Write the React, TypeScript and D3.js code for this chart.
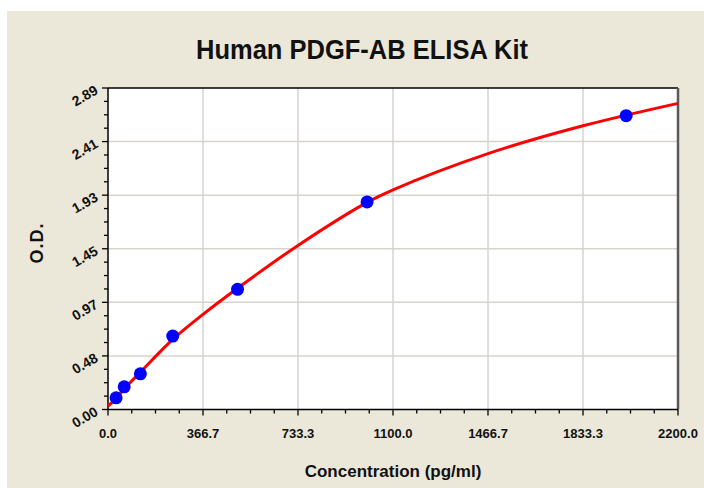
import React from 'react';
import * as d3 from 'd3';

// standards
const concentrations = [31.25, 62.5, 125, 250, 500, 1000, 2000];
const odValues = [0.105, 0.204, 0.321, 0.66, 1.08, 1.866, 2.641];

// fitted curve
const curveConc = [0, 31.25, 62.5, 125, 250, 366.7, 500, 733.3, 1000, 1100, 1466.7, 1833.3, 2200];
const curveOd = [0.03, 0.1, 0.185, 0.335, 0.63, 0.855, 1.09, 1.475, 1.862, 1.975, 2.3, 2.55, 2.752];

const xTickValues = [0, 366.7, 733.3, 1100, 1466.7, 1833.3, 2200];
const xTickLabels = ['0.0', '366.7', '733.3', '1100.0', '1466.7', '1833.3', '2200.0'];
const yTickValues = [0, 0.4817, 0.9633, 1.445, 1.9267, 2.4083, 2.89];
const yTickLabels = ['0.00', '0.48', '0.97', '1.45', '1.93', '2.41', '2.89'];

const W = 704;
const H = 488;
const margin = {top: 88, right: 26, bottom: 78.5, left: 108};
const fig_width = W - margin.left - margin.right;
const fig_height = H - margin.top - margin.bottom;

const font = '"Liberation Sans", Arial, sans-serif';

export default function App() {
    const x = d3.scaleLinear().domain([0, 2200]).range([0, fig_width]);
    const y = d3.scaleLinear().domain([0, 2.89]).range([fig_height, 0]);

    const xMinor = d3.range(0, 25).map((i) => i * 2200 / 24);
    const yMinor = d3.range(0, 25).map((i) => i * 2.89 / 24);

    const makeLine = d3.line<number>()
        .x((d, i) => x(curveConc[i]))
        .y((d) => y(d))
        .curve(d3.curveCatmullRom.alpha(0.5));

    return (
        <svg width={W} height={H} style={{position: 'absolute', left: 0, top: 0, background: '#fff'}}>
            <rect x={7} y={11} width={W - 7} height={H - 11} fill="#ebe8d9" />
            <text x={362} y={59} textAnchor="middle" fontFamily={font} fontWeight="bold"
                fontSize={27} textLength={332} lengthAdjust="spacingAndGlyphs" fill="#111">
                Human PDGF-AB ELISA Kit
            </text>
            <g transform={`translate(${margin.left},${margin.top})`}>
                <rect x={0} y={0} width={fig_width} height={fig_height} fill="#fff" />
                {xTickValues.slice(1, -1).map((v) => (
                    <line key={'gx' + v} x1={x(v)} x2={x(v)} y1={0} y2={fig_height} stroke="#d6d4cc" strokeWidth={1.5} />
                ))}
                {yTickValues.slice(1, -1).map((v) => (
                    <line key={'gy' + v} x1={0} x2={fig_width} y1={y(v)} y2={y(v)} stroke="#d6d4cc" strokeWidth={1.5} />
                ))}
                {/* frame */}
                <line x1={0} x2={fig_width} y1={0} y2={0} stroke="#000" strokeWidth={1.5} />
                <line x1={fig_width} x2={fig_width} y1={0} y2={fig_height} stroke="#5a5a5a" strokeWidth={2.5} />
                <line x1={0} x2={fig_width} y1={fig_height} y2={fig_height} stroke="#000" strokeWidth={1.5} />
                <line x1={0} x2={0} y1={0} y2={fig_height} stroke="#000" strokeWidth={1.5} />
                {/* ticks */}
                {xMinor.map((v, i) => (
                    <line key={'tx' + i} x1={x(v)} x2={x(v)} y1={fig_height} y2={fig_height + (i % 4 === 0 ? 6 : 4)} stroke="#000" strokeWidth={1.3} />
                ))}
                {yMinor.map((v, i) => (
                    <line key={'ty' + i} x1={0} x2={i % 4 === 0 ? -6 : -4} y1={y(v)} y2={y(v)} stroke="#000" strokeWidth={1.3} />
                ))}
                {xTickValues.map((v, i) => (
                    <text key={'lx' + v} x={x(v)} y={fig_height + 28} textAnchor="middle" fontFamily={font}
                        fontWeight="bold" fontSize={13} fill="#111">{xTickLabels[i]}</text>
                ))}
                {yTickValues.map((v, i) => (
                    <text key={'ly' + v} transform={`translate(-9,${y(v) + 5}) rotate(-30)`} textAnchor="end"
                        fontFamily={font} fontWeight="bold" fontSize={14} fill="#111">{yTickLabels[i]}</text>
                ))}
                {/* curve and points */}
                <path d={makeLine(curveOd) || ''} fill="none" stroke="#ff0000" strokeWidth={3} />
                {concentrations.map((c, i) => (
                    <circle key={'p' + c} cx={x(c)} cy={y(odValues[i])} r={6.5} fill="#0000ff" />
                ))}
            </g>
            <text x={393} y={477} textAnchor="middle" fontFamily={font} fontWeight="bold" fontSize={17} fill="#111">
                Concentration (pg/ml)
            </text>
            <text transform="translate(43,243) rotate(-90)" textAnchor="middle" fontFamily={font} fontWeight="bold"
                fontSize={18} letterSpacing={1} fill="#111">O.D.</text>
        </svg>
    );
}
